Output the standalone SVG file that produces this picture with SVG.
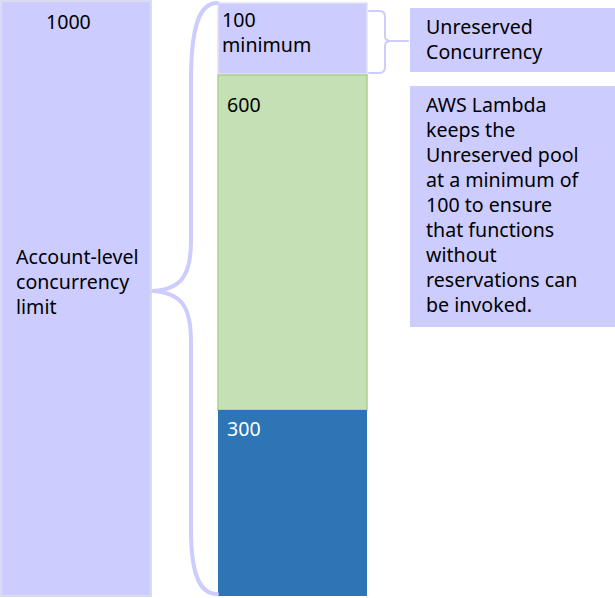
<svg xmlns="http://www.w3.org/2000/svg" width="615" height="598" viewBox="0 0 615 598">
  <style>
    text { font-family: "Noto Sans", "Open Sans", sans-serif; font-size: 19.6px; fill: #000; }
    .lilac { fill: #ccccff; }
    .brace { fill: none; stroke: #ccccff; stroke-linecap: round; stroke-linejoin: round; }
  </style>
  <rect width="615" height="598" fill="#ffffff"/>

  <g id="account-limit">
    <rect class="lilac" x="1" y="1" width="150" height="595" stroke="#d9dbf2" stroke-width="2"/>
    <text x="46" y="29">1000</text>
    <text x="16" y="264">Account-level</text>
    <text x="16" y="289">concurrency</text>
    <text x="16" y="314">limit</text>
  </g>

  <g id="unreserved-min">
    <rect class="lilac" x="218" y="3" width="149" height="71" stroke="#e2e2f4" stroke-width="1.5"/>
    <text x="222" y="27">100</text>
    <text x="222" y="52">minimum</text>
  </g>

  <g id="reserved-600">
    <rect x="218" y="75" width="149" height="335" fill="#c5e0b4" stroke="#a9d18e" stroke-width="1.5"/>
    <text x="227" y="112">600</text>
  </g>

  <g id="reserved-300">
    <rect x="218" y="410" width="149" height="186" fill="#2e75b6"/>
    <text x="227" y="436" style="fill:#ffffff">300</text>
  </g>

  <g id="unreserved-label">
    <rect class="lilac" x="410" y="8" width="205" height="64"/>
    <text x="426" y="34">Unreserved</text>
    <text x="426" y="59">Concurrency</text>
  </g>

  <g id="note">
    <rect class="lilac" x="410" y="86" width="205" height="241"/>
    <text x="426" y="112">AWS Lambda</text>
    <text x="426" y="137">keeps the</text>
    <text x="426" y="162">Unreserved pool</text>
    <text x="426" y="187">at a minimum of</text>
    <text x="426" y="212">100 to ensure</text>
    <text x="426" y="237">that functions</text>
    <text x="426" y="262">without</text>
    <text x="426" y="287">reservations can</text>
    <text x="426" y="312">be invoked.</text>
  </g>

  <g id="connectors">
    <!-- large brace grouping the three pools under the account limit -->
    <path class="brace" stroke-width="4" d="M217,3 C200,3 191,25 191,80 L191,240 C191,275 182,289 153,291 C182,293 191,307 191,342 L191,530 C191,575 200,594 217,594"/>
    <!-- small brace pointing from the unreserved block to its label -->
    <path class="brace" stroke-width="2" d="M369,11 L379,11 Q385,11 385,17 L385,36 Q385,41 391,41 L408,41 M391,41 Q385,41 385,46 L385,67 Q385,73 379,73 L369,73"/>
  </g>
</svg>
